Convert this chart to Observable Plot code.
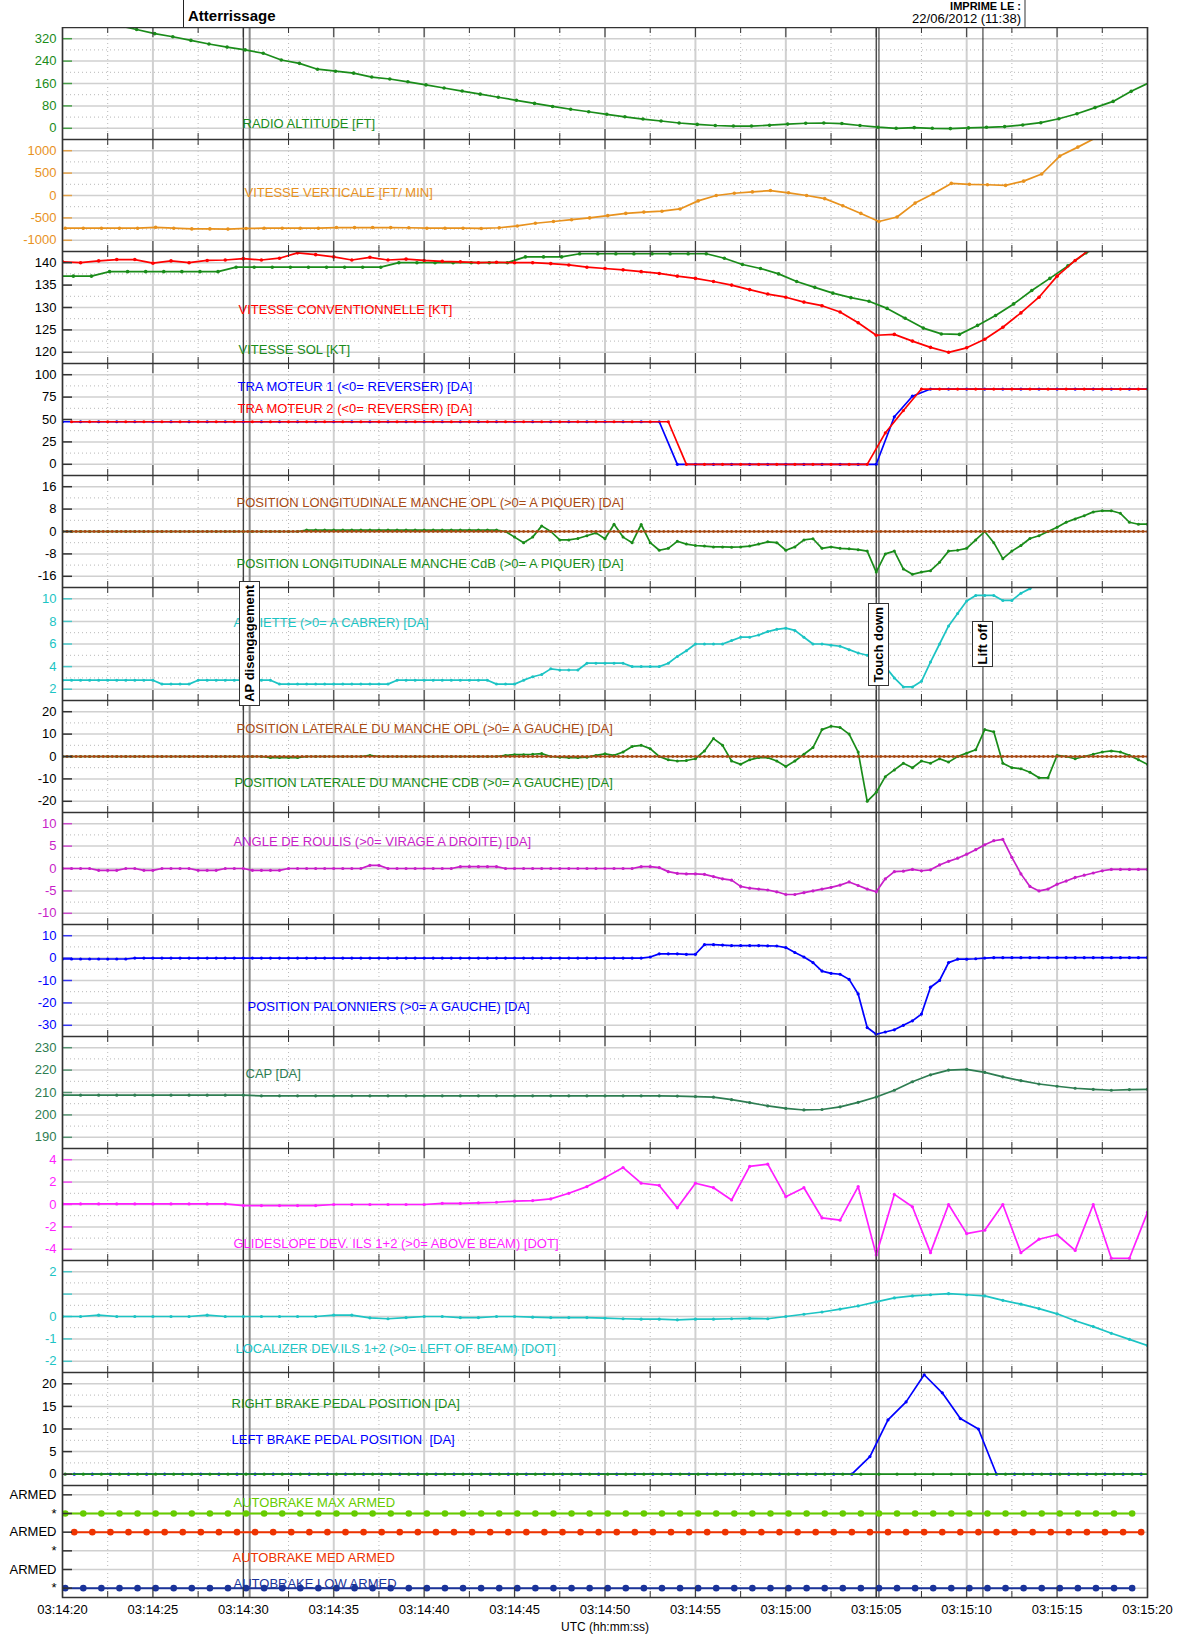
<!DOCTYPE html>
<html><head><meta charset="utf-8">
<script src="https://cdn.jsdelivr.net/npm/d3@7"></script>
<script src="https://cdn.jsdelivr.net/npm/@observablehq/plot@0.6"></script>
<style>
body{margin:0;background:#fff;font-family:"Liberation Sans",Arial,Helvetica,sans-serif;}
#chart{position:relative;width:1178px;height:1637px;overflow:hidden;background:#fff;}
.panel{position:absolute;left:0;}
.hdr{position:absolute;white-space:nowrap;color:#000;}
.vline{position:absolute;top:0;height:27px;}
.evbox{position:absolute;background:#fff;border:1px solid #333;box-sizing:border-box;display:flex;align-items:center;justify-content:center;}
.evbox span{writing-mode:vertical-rl;transform:rotate(180deg);font-weight:bold;font-size:13px;white-space:nowrap;color:#000;}
</style></head><body><div id="chart"></div>
<script>
// ---------------- time axis ----------------
const xMajor = [0,5,10,15,20,25,30,35,40,45,50,55,60];
const xMinor = [2.5,7.5,12.5,17.5,22.5,27.5,32.5,37.5,42.5,47.5,52.5,57.5];
const xLabels = ["03:14:20","03:14:25","03:14:30","03:14:35","03:14:40","03:14:45","03:14:50","03:14:55","03:15:00","03:15:05","03:15:10","03:15:15","03:15:20"];
const markerLines = [10, 45];
const eventTimes = [10.35, 45.15, 50.9];
const eventNames = ["AP disengagement", "Touch down", "Lift off"];

// ---------------- tick values ----------------
const raTicks = [0,80,160,240,320];
const vvTicks = [-1000,-500,0,500,1000];
const spdTicks = [120,125,130,135,140];
const traTicks = [0,25,50,75,100];
const longTicks = [-16,-8,0,8,16];
const attTicks = [2,4,6,8,10];
const latTicks = [-20,-10,0,10,20];
const rollTicks = [-10,-5,0,5,10];
const pedTicks = [-30,-20,-10,0,10];
const capTicks = [190,200,210,220,230];
const gsTicks = [-4,-2,0,2,4];
const locTicks = [-2,-1,0,1,2];
const locTickLabels = ["-2","-1","0","","2"];
const brkTicks = [0,5,10,15,20];
const abTicks = [0,1,2,3,4,5];
const abTickLabels = ["*","ARMED","*","ARMED","*","ARMED"];

// ---------------- series (values read from the record) ----------------
// radio altitude, 1 Hz from t=3.1 s
const radioAlt = [367,353,338,327,314,301,290,280,268,244,232,211,204,197,183,176,166,155,144,133,122,111,100,89,78,68,59,50,41,33,26,19,14,10,8,8,11,15,18,19,17,10,4,0,2.5,0,-1,1.4,3.5,6,12,20,34,52,74,96,132,163];
// vertical speed, 1 Hz from t=0.15
const vertSpeed = [-730,-730,-730,-730,-730,-710,-730,-745,-745,-750,-735,-730,-730,-730,-730,-715,-715,-715,-715,-720,-730,-730,-730,-735,-720,-680,-620,-580,-540,-500,-450,-400,-370,-350,-300,-120,0,50,80,110,60,0,-70,-230,-400,-580,-480,-170,40,270,250,240,225,320,480,880,1080,1290];
// computed airspeed, 1 Hz from t=0
const cas = [140.2,140.0,140.4,140.7,140.7,139.9,140.4,140.0,140.5,140.6,140.9,140.6,141.0,142.2,141.8,141.3,140.6,141.2,140.6,140.8,140.5,140.3,140.2,140.0,140.1,140.0,140.0,139.8,139.5,139.0,138.7,138.4,138.0,137.6,137.0,136.5,135.8,135.0,134.0,133.0,132.3,131.2,130.4,129.0,126.6,123.8,124.0,122.5,121.1,120.0,121.0,122.9,125.6,128.8,132.3,137.0,140.5,143.5];
// ground speed, 1 Hz from t=-0.4
const groundSpeed = [137,137,137,138,138,138,138,138,138,138,139,139,139,139,139,139,139,139,139,140,140,140,140,140,140,140,141.3,141.3,141.3,142,142,142,142,142,142,142,142,141,139.6,138.7,137.5,135.8,134.5,133.2,132.2,131.4,129.8,127.6,125.4,124.1,124.0,126.0,128.2,130.8,133.8,136.5,139.3,142.2,144];
// TRA engine 1 (1 Hz from t=0) and engine 2 (1 Hz from t=0.5)
const tra1 = [47.5,47.5,47.5,47.5,47.5,47.5,47.5,47.5,47.5,47.5,47.5,47.5,47.5,47.5,47.5,47.5,47.5,47.5,47.5,47.5,47.5,47.5,47.5,47.5,47.5,47.5,47.5,47.5,47.5,47.5,47.5,47.5,47.5,47.5,0,0,0,0,0,0,0,0,0,0,0,0,53,76,84,84,84,84,84,84,84,84,84,84,84,84,84];
const tra2 = [47.5,47.5,47.5,47.5,47.5,47.5,47.5,47.5,47.5,47.5,47.5,47.5,47.5,47.5,47.5,47.5,47.5,47.5,47.5,47.5,47.5,47.5,47.5,47.5,47.5,47.5,47.5,47.5,47.5,47.5,47.5,47.5,47.5,47.5,0,0,0,0,0,0,0,0,0,0,0,35,60,84,84,84,84,84,84,84,84,84,84,84,84,84,84];
// longitudinal stick: F/O (4 Hz) and captain (2 Hz)
const longOpl = [
0,0,0,0,0,0,0,0,0,0,0,0,0,0,0,0,0,0,0,0,
0,0,0,0,0,0,0,0,0,0,0,0,0,0,0,0,0,0,0,0,
0,0,0,0,0,0,0,0,0,0,0,0,0,0,0,0,0,0,0,0,
0,0,0,0,0,0,0,0,0,0,0,0,0,0,0,0,0,0,0,0,
0,0,0,0,0,0,0,0,0,0,0,0,0,0,0,0,0,0,0,0,
0,0,0,0,0,0,0,0,0,0,0,0,0,0,0,0,0,0,0,0,
0,0,0,0,0,0,0,0,0,0,0,0,0,0,0,0,0,0,0,0,
0,0,0,0,0,0,0,0,0,0,0,0,0,0,0,0,0,0,0,0,
0,0,0,0,0,0,0,0,0,0,0,0,0,0,0,0,0,0,0,0,
0,0,0,0,0,0,0,0,0,0,0,0,0,0,0,0,0,0,0,0,
0,0,0,0,0,0,0,0,0,0,0,0,0,0,0,0,0,0,0,0,
0,0,0,0,0,0,0,0,0,0,0,0,0,0,0,0,0,0,0,0,
0];
const longCdb = [0,0,0,0,0,0,0,0,0,0,0,0,0,0,0,0,0,0,0,0,0,0,0,0,0,0,0,
0.5,0.5,0.5,0.5,0.5,0.5,0.5,0.5,0.5,0.5,0.5,0.5,0.5,0.5,0.5,0.5,0.5,0.5,0.5,0.5,0.5,0.5,
0,-2,-4,-2,2,0,-3,-3,-2.5,-1.5,-0.5,-2.6,2.6,-2,-4,2.5,-4,-6.7,-6,-3.5,-4.5,-5,-5.2,-5.5,-5.5,-5.6,-5.5,-5.2,-4.5,-3.7,-4,-6.7,-5.5,-3,-2.6,-6,-5.5,-6,-6.2,-6.5,-7,-14.5,-8,-7,-13.4,-15.3,-14.5,-14,-11,-7,-6.7,-6,-3,0,-4,-9.7,-7,-5,-2.5,-1.5,0,1.5,3.3,4.5,5.6,7,7.4,7.4,6.5,3.3,2.6,2.6];
// pitch attitude, 2 Hz from t=0
const pitch = [2.8,2.8,2.8,2.8,2.8,2.8,2.8,2.8,2.8,2.8,2.8,
2.45,2.45,2.45,2.45,
2.8,2.8,2.8,2.8,2.8,2.8,2.8,2.8,2.8,
2.45,2.45,2.45,2.45,2.45,2.45,2.45,2.45,2.45,2.45,2.45,2.45,2.45,
2.8,2.8,2.8,2.8,2.8,2.8,2.8,2.8,2.8,2.8,2.8,
2.45,2.45,2.45,
2.8,3.1,3.3,3.8,3.7,3.7,3.7,4.3,4.3,4.3,4.3,4.3,4.0,4.0,4.0,4.0,4.3,4.9,5.4,6.0,6.0,6.0,6.0,6.3,6.6,6.6,6.8,7.1,7.3,7.4,7.2,6.6,6.0,6.0,5.9,5.8,5.5,5.2,5.0,4.7,4.0,3.0,2.2,2.2,2.7,4.4,6.0,7.6,8.7,9.8,10.3,10.3,10.3,9.86,9.86,10.5,10.9,11.4];
// lateral stick: F/O (4 Hz) and captain (2 Hz)
const latOpl = [
0,0,0,0,0,0,0,0,0,0,0,0,0,0,0,0,0,0,0,0,
0,0,0,0,0,0,0,0,0,0,0,0,0,0,0,0,0,0,0,0,
0,0,0,0,0,0,0,0,0,0,0,0,0,0,0,0,0,0,0,0,
0,0,0,0,0,0,0,0,0,0,0,0,0,0,0,0,0,0,0,0,
0,0,0,0,0,0,0,0,0,0,0,0,0,0,0,0,0,0,0,0,
0,0,0,0,0,0,0,0,0,0,0,0,0,0,0,0,0,0,0,0,
0,0,0,0,0,0,0,0,0,0,0,0,0,0,0,0,0,0,0,0,
0,0,0,0,0,0,0,0,0,0,0,0,0,0,0,0,0,0,0,0,
0,0,0,0,0,0,0,0,0,0,0,0,0,0,0,0,0,0,0,0,
0,0,0,0,0,0,0,0,0,0,0,0,0,0,0,0,0,0,0,0,
0,0,0,0,0,0,0,0,0,0,0,0,0,0,0,0,0,0,0,0,
0,0,0,0,0,0,0,0,0,0,0,0,0,0,0,0,0,0,0,0,
0];
const latCdb = [0,0,0,0,0,0,0,0,0,0,0,0,0,0,0,0,0,0,0,0,0,0,0,
-0.5,-0.5,-0.5,-0.5,
0,0,0,0,0,0,0,
0.5,
0,0,0,0,0,0,0,0,0,0,0,0,0,0,
0.5,0.8,0.8,1.0,1.3,0,-0.3,-0.5,-0.5,-0.3,0.5,1.2,0.5,2,4.5,5,3.5,0,-1.5,-2,-1.8,-1,2.5,8,5,-2,-3.5,-1.5,-0.5,-0.5,-2,-4.5,-2,1,4,12,13.5,13,10,2,-20,-16,-9,-6,-3,-5,-2,-3,-1,-2.5,0,1.5,3,12,11,-3,-5,-5.5,-7,-9.5,-9.5,0.5,0,-1,0,1,2,2.5,2,0.5,-1.5,-3.5];
// roll angle, 2 Hz from t=0
const roll = [0,0,0,0,-0.4,-0.4,-0.4,0,0,-0.4,-0.4,0,0,0,0,-0.4,-0.4,-0.4,0,0,0,-0.4,-0.4,-0.4,-0.4,
0,0,0,0,0,0,0,0,0,0.7,0.7,0,0,0,0,0,0,0,0,0.4,0.4,0.4,0.4,0.4,
0,0,0,0,0,0,0,0,0,0,0,0,0,0,0,0.4,0.4,0.2,
-0.7,-1.1,-1.2,-1.2,-1.3,-1.8,-2.3,-2.6,-4.0,-4.4,-4.6,-4.8,-5.2,-5.8,-5.8,-5.4,-5.0,-4.6,-4.2,-3.7,-3.0,-3.8,-4.6,-5.2,-2.3,-0.7,-0.6,-0.2,-0.5,-0.3,0.8,1.6,2.3,3.2,4.2,5.3,6.2,6.5,2.5,-1.2,-4.0,-5.0,-4.6,-3.5,-2.8,-2.0,-1.5,-1.0,-0.5,-0.2,-0.2,-0.2,-0.2,-0.2];
// rudder pedals, 2 Hz from t=0
const pedals = [-0.4,-0.4,-0.4,-0.4,-0.4,-0.4,-0.4,-0.4,
0,0,0,0,0,0,0,0,0,0,0,0,0,0,0,0,0,0,0,0,0,0,0,0,0,0,0,0,0,0,0,0,0,0,0,0,0,0,0,0,0,0,0,0,0,0,0,0,0,0,0,0,0,0,0,0,0,
0.5,1.9,1.9,1.9,1.7,1.7,6,6,5.8,5.6,5.6,5.6,5.6,5.5,5.4,4.7,2.5,0.5,-2,-5.8,-6.8,-7.2,-9.5,-16,-31,-34,-33,-32,-30,-28,-25,-13,-10,-2,-0.5,-0.5,-0.3,0,
0.2,0.2,0.2,0.2,0.2,0.2,0.2,0.2,0.2,0.2,0.2,0.2,0.2,0.2,0.2,0.2,0.2,0.2];
// heading, 1 Hz from t=0
const heading = [208.8,208.8,208.8,208.8,208.8,208.8,208.8,208.8,208.8,208.8,208.8,
208.5,208.5,208.5,208.5,208.5,208.5,208.5,208.5,208.5,208.5,208.5,208.5,208.5,208.5,208.5,208.5,208.5,208.5,208.5,208.5,208.5,208.5,208.5,
208.4,208.2,207.9,206.8,205.5,204.0,202.9,202.2,202.4,203.6,205.6,208.0,211.0,214.8,217.9,220.0,220.3,219.0,217.0,215.3,213.8,212.8,211.9,211.4,211.0,211.3,211.4];
// glideslope deviation, 1 Hz from t=0
const glide = [0.05,0.05,0.05,0.05,0.05,0.05,0.05,0.05,0.05,0.05,-0.1,-0.1,-0.1,-0.1,-0.1,0,0,0,0,0,0,
0.1,0.1,0.15,0.2,0.3,0.35,0.5,1.0,1.6,2.4,3.3,1.9,1.7,-0.3,1.9,1.5,0.4,3.4,3.6,0.7,1.5,-1.2,-1.4,1.6,-4.5,0.9,-0.2,-4.3,0,-2.6,-2.3,0,-4.3,-3.1,-2.7,-4.1,0,-4.8,-4.8,-0.7];
// localizer deviation, 1 Hz from t=0
const loc = [0,0,0.06,0,0,0,0,0,0.06,0,0,0,0,0,0,0.06,0.06,-0.06,-0.1,-0.05,0,0,-0.05,-0.05,0,0,-0.03,-0.05,-0.05,-0.05,-0.07,-0.1,-0.12,-0.12,-0.15,-0.12,-0.12,-0.1,-0.08,-0.1,0,0.1,0.2,0.33,0.47,0.65,0.83,0.92,0.97,1.02,0.97,0.92,0.72,0.55,0.35,0.12,-0.19,-0.45,-0.75,-1.02,-1.3];
// brake pedals: right 1 Hz from 0.15, left 1 Hz from 0.65
const brakeRight = [0,0,0,0,0,0,0,0,0,0,0,0,0,0,0,0,0,0,0,0,0,0,0,0,0,0,0,0,0,0,0,0,0,0,0,0,0,0,0,0,0,0,0,0,0,0,0,0,0,0,0,0,0,0,0,0,0,0,0,0,0];
const brakeLeft = [0,0,0,0,0,0,0,0,0,0,0,0,0,0,0,0,0,0,0,0,0,0,0,0,0,0,0,0,0,0,0,0,0,0,0,0,0,0,0,0,0,0,0,0,3.9,12,16,22,18,12.3,10,0,0,0,0,0,0,0,0,0];
// autobrake discretes (1 = ARMED)
const abMax = [0,0,0,0,0,0,0,0,0,0,0,0,0,0,0,0,0,0,0,0,0,0,0,0,0,0,0,0,0,0,0,0,0,0,0,0,0,0,0,0,0,0,0,0,0,0,0,0,0,0,0,0,0,0,0,0,0,0,0,0];
const abMed = [1,1,1,1,1,1,1,1,1,1,1,1,1,1,1,1,1,1,1,1,1,1,1,1,1,1,1,1,1,1,1,1,1,1,1,1,1,1,1,1,1,1,1,1,1,1,1,1,1,1,1,1,1,1,1,1,1,1,1,1];
const abLow = [0,0,0,0,0,0,0,0,0,0,0,0,0,0,0,0,0,0,0,0,0,0,0,0,0,0,0,0,0,0,0,0,0,0,0,0,0,0,0,0,0,0,0,0,0,0,0,0,0,0,0,0,0,0,0,0,0,0,0,0];

// ---------------- build ----------------
const FONT = '"Liberation Sans", Arial, Helvetica, sans-serif';
const C = {green:"#1a8c1a", orange:"#e8921e", red:"#ff0000", blue:"#0000ff", brown:"#a84a14", cyan:"#1cc4c4",
  magenta:"#c81ec8", cap:"#2e7d52", pink:"#ff1eff", lime:"#66cc00", verm:"#ee3300", navy:"#1a3399", black:"#000000"};
function ser(t0, dt, vals, base = 0) { return vals.map((v, i) => ({t: t0 + i * dt, v: v + base})); }

const panels = [
  {dom:[-40,360], ticks:raTicks, tc:C.green, series:[{d:ser(3.1,1,radioAlt), c:C.green, r:1.8}], labels:[["RADIO ALTITUDE [FT]", C.green, 180, 96]]},
  {dom:[-1250,1250], ticks:vvTicks, tc:C.orange, series:[{d:ser(0.15,1,vertSpeed), c:C.orange, r:1.8}], labels:[["VITESSE VERTICALE [FT/ MIN]", C.orange, 182, 53]]},
  {dom:[117.5,142.5], ticks:spdTicks, tc:C.black, series:[{d:ser(-0.4,1,groundSpeed), c:C.green, r:1.8},{d:ser(0,1,cas), c:C.red, r:1.8}],
    labels:[["VITESSE CONVENTIONNELLE [KT]", C.red, 176, 58],["VITESSE SOL [KT]", C.green, 176, 98]]},
  {dom:[-12.5,112.5], ticks:traTicks, tc:C.black, series:[{d:ser(0,1,tra1), c:C.blue, r:1.6},{d:ser(0.5,1,tra2), c:C.red, r:1.6}],
    labels:[["TRA MOTEUR 1 (<0= REVERSER) [DA]", C.blue, 175, 23],["TRA MOTEUR 2 (<0= REVERSER) [DA]", C.red, 175, 45]]},
  {dom:[-20,20], ticks:longTicks, tc:C.black, series:[{d:ser(0,0.5,longCdb), c:C.green, r:1.5},{d:ser(0,0.25,longOpl), c:C.brown, r:1.4}],
    labels:[["POSITION LONGITUDINALE MANCHE OPL (>0= A PIQUER) [DA]", C.brown, 174, 27],["POSITION LONGITUDINALE MANCHE CdB (>0= A PIQUER) [DA]", C.green, 174, 88]]},
  {dom:[1,11], ticks:attTicks, tc:C.cyan, series:[{d:ser(0,0.5,pitch), c:C.cyan, r:1.5}], labels:[["ASSIETTE (>0= A CABRER) [DA]", C.cyan, 171, 35]]},
  {dom:[-25,25], ticks:latTicks, tc:C.black, series:[{d:ser(0,0.5,latCdb), c:C.green, r:1.5},{d:ser(0,0.25,latOpl), c:C.brown, r:1.4}],
    labels:[["POSITION LATERALE DU MANCHE OPL (>0= A GAUCHE) [DA]", C.brown, 174, 28],["POSITION LATERALE DU MANCHE CDB (>0= A GAUCHE) [DA]", C.green, 172, 82]]},
  {dom:[-12.5,12.5], ticks:rollTicks, tc:C.magenta, series:[{d:ser(0,0.5,roll), c:C.magenta, r:1.6}], labels:[["ANGLE DE ROULIS (>0= VIRAGE A DROITE) [DA]", C.magenta, 171, 29]]},
  {dom:[-35,15], ticks:pedTicks, tc:C.blue, series:[{d:ser(0,0.5,pedals), c:C.blue, r:1.6}], labels:[["POSITION PALONNIERS (>0= A GAUCHE) [DA]", C.blue, 185, 82]]},
  {dom:[185,235], ticks:capTicks, tc:C.cap, series:[{d:ser(0,1,heading), c:C.cap, r:1.6}], labels:[["CAP [DA]", C.cap, 183, 37]]},
  {dom:[-5,5], ticks:gsTicks, tc:C.pink, series:[{d:ser(0,1,glide), c:C.pink, r:1.6}], labels:[["GLIDESLOPE DEV. ILS 1+2 (>0= ABOVE BEAM) [DOT]", C.pink, 171, 95]]},
  {dom:[-2.5,2.5], ticks:locTicks, tl:locTickLabels, tc:C.cyan, series:[{d:ser(0,1,loc), c:C.cyan, r:1.6}], labels:[["LOCALIZER DEV.ILS 1+2 (>0= LEFT OF BEAM) [DOT]", C.cyan, 173, 88]]},
  {dom:[-2.5,22.5], ticks:brkTicks, tc:C.black, series:[{d:ser(0.65,1,brakeLeft), c:C.blue, r:1.6},{d:ser(0.15,1,brakeRight), c:C.green, r:1.6}],
    labels:[["RIGHT BRAKE PEDAL POSITION [DA]", C.green, 169, 31],["LEFT BRAKE PEDAL POSITION  [DA]", C.blue, 169, 67]]},
  {dom:[-0.5,5.5], ticks:abTicks, tl:abTickLabels, tc:C.black, nominor:true,
    series:[{d:ser(0.15,1,abMax,4), c:C.lime, r:3.3, sw:2},{d:ser(0.65,1,abMed,2), c:C.verm, r:3.3, sw:2},{d:ser(0.15,1,abLow,0), c:C.navy, r:3.3, sw:2}],
    labels:[["AUTOBRAKE MAX ARMED", C.lime, 171, 17],["AUTOBRAKE MED ARMED", C.verm, 170, 72],["AUTOBRAKE LOW ARMED", C.navy, 171, 98]]}
];

const chart = document.getElementById("chart");
const W = 1178, ML = 62, MR = 31, PW = W - ML - MR;
let firstPlot = null;

panels.forEach((p, idx) => {
  const top = Math.round(26.7 + idx * 112.14);
  const next = Math.round(26.7 + (idx + 1) * 112.14);
  const ph = next - top;
  const last = idx === panels.length - 1;
  const mb = last ? 1637 - next : 0;
  const mids = p.nominor ? [] : p.ticks.slice(1).map((d, j) => (d + p.ticks[j]) / 2);
  const tl = p.tl || p.ticks.map(String);
  const isColored = p.tc !== C.black;
  const marks = [
    Plot.ruleX(xMinor, {stroke:"#b8b8b8", strokeDasharray:"1,3", strokeWidth:1}),
    Plot.ruleX(xMajor, {stroke:"#d0d0d0", strokeWidth:2}),
    Plot.ruleY(mids, {stroke:"#b8b8b8", strokeDasharray:"1,3", strokeWidth:1}),
    Plot.ruleY(p.ticks, {stroke:"#d0d0d0", strokeWidth:1.5}),
    Plot.ruleX(markerLines, {stroke:"#222", strokeWidth:1}),
    Plot.ruleX([eventTimes[0]], {stroke:"#8a8a8a", strokeWidth:2}),
    Plot.ruleX(eventTimes.slice(1), {stroke:"#222", strokeWidth:1}),
  ];
  p.series.forEach(s => {
    marks.push(Plot.line(s.d, {x:"t", y:"v", stroke:s.c, strokeWidth:s.sw || 1.7, clip:true}));
    marks.push(Plot.dot(s.d, {x:"t", y:"v", r:s.r, fill:s.c, clip:true}));
  });
  p.labels.forEach(([txt, col, dx, dy]) => {
    marks.push(Plot.text([txt], {text:d => d, frameAnchor:"top-left", dx, dy, fill:col, fontSize:13, textAnchor:"start", lineAnchor:"middle"}));
  });
  marks.push(
    Plot.tickX(xMinor, {x:d => d, stroke:"#333", insetBottom:ph - 6}),
    Plot.tickX(xMajor, {x:d => d, stroke:"#333", insetBottom:ph - 10}),
    Plot.tickX(xMinor, {x:d => d, stroke:"#333", insetTop:ph - 6}),
    Plot.tickX(xMajor, {x:d => d, stroke:"#333", insetTop:ph - 10}),
    Plot.tickY(p.ticks, {y:d => d, stroke:isColored ? p.tc : "#333", strokeOpacity:isColored ? 0.75 : 1, strokeWidth:1.5, insetRight:PW - 10}),
    Plot.frame({stroke:"#333", strokeWidth:1.5}),
    Plot.text(p.ticks, {y:d => d, text:(d, i) => tl[i], frameAnchor:"left", dx:-6, textAnchor:"end", lineAnchor:"middle", fill:p.tc, fontSize:13})
  );
  if (last) {
    marks.push(
      Plot.text(xMajor, {x:d => d, text:(d, i) => xLabels[i], frameAnchor:"bottom", dy:12, lineAnchor:"middle", fill:"#000", fontSize:13}),
      Plot.text(["UTC (hh:mm:ss)"], {text:d => d, frameAnchor:"bottom", dy:30, lineAnchor:"middle", fill:"#000", fontSize:12})
    );
  }
  const plot = Plot.plot({
    width: W, height: ph + mb,
    marginLeft: ML, marginRight: MR, marginTop: 0, marginBottom: mb,
    x: {domain:[0, 60], axis:null},
    y: {domain:p.dom, axis:null},
    style: {fontFamily: FONT, fontSize: "13px", background: "transparent"},
    marks
  });
  plot.classList.add("panel");
  plot.style.top = top + "px";
  plot.style.maxWidth = "none";
  chart.appendChild(plot);
  if (!firstPlot) firstPlot = plot;
});

// ---------------- header ----------------
function addDiv(cls, css, html) { const d = document.createElement("div"); d.className = cls; Object.assign(d.style, css); if (html) d.textContent = html; chart.appendChild(d); return d; }
addDiv("vline", {left:"183px", width:"1px", background:"#222"});
addDiv("hdr", {left:"188px", top:"7px", fontSize:"15px", fontWeight:"bold", lineHeight:"17px"}, "Atterrissage");
addDiv("vline", {left:"1024px", width:"2px", background:"#999"});
addDiv("hdr", {right:(1178 - 1021) + "px", top:"1px", fontSize:"11px", fontWeight:"bold", lineHeight:"11px"}, "IMPRIME LE :");
addDiv("hdr", {right:(1178 - 1021) + "px", top:"12px", fontSize:"13px", lineHeight:"14px"}, "22/06/2012 (11:38)");

// ---------------- event boxes ----------------
const xs = firstPlot.scale("x");
const boxV = [[581, 125], [603, 83], [621, 46]];
eventTimes.forEach((t, i) => {
  const cx = xs.apply(t);
  const b = addDiv("evbox", {left:(cx - 10.5) + "px", top:boxV[i][0] + "px", width:"21px", height:boxV[i][1] + "px"});
  const s = document.createElement("span"); s.textContent = eventNames[i]; b.appendChild(s);
});
</script></body></html>
